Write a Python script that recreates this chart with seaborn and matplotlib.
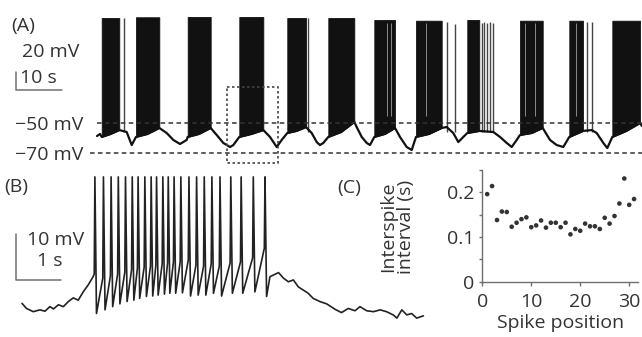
import numpy as np
import matplotlib
matplotlib.use("Agg")
import matplotlib.pyplot as plt
import seaborn as sns

sns.set_theme(style="white")
plt.rcParams['font.family'] = ['Open Sans', 'DejaVu Sans']

# %% (A) slow bursting trace: time (s), voltage (mV)
a_burst_start = [1.46, 8.91, 20.15, 31.37, 41.8, 50.72, 60.72, 69.78, 80.93, 92.39, 103.11, 112.46]
a_burst_end = [5.28, 13.98, 25.15, 36.59, 45.87, 56.37, 65.22, 75.37, 83.54, 97.33, 106.09, 118.48]
a_burst_top = [20.0, 20.5, 20.7, 20.7, 20.0, 20.0, 18.7, 18.2, 18.7, 18.2, 18.2, 18.2]

a_extra_t = [6.3, 46.3, 76.6, 78.3, 84.1, 84.6, 85.2, 85.9, 86.5, 106.9, 108.0]
a_extra_top = [20.0, 20.0, 17.5, 16.0, 17.0, 17.5, 17.0, 17.5, 16.5, 17.5, 17.5]

# lighter gaps seen inside some bursts
a_gap_t = [63.4, 64.4, 72.0, 93.5, 95.6, 104.6]

a_base_t = [0.43, 1.09, 1.46, 3.4, 5.28, 6.89, 7.98, 8.91, 11.4, 13.98, 15.59, 17.02,
            18.48, 19.93, 20.15, 22.6, 25.15, 26.46, 27.89, 29.35, 30.07, 31.37, 34.0,
            36.59, 38.04, 39.5, 40.59, 41.8, 43.8, 45.87, 47.11, 48.2, 48.91, 49.63,
            50.72, 53.5, 56.37, 56.89, 57.98, 59.07, 59.78, 60.72, 63.0, 65.22, 66.3,
            67.76, 68.85, 69.78, 72.6, 75.37, 76.46, 77.89, 78.98, 80.07, 80.93, 83.54,
            86.59, 88.04, 89.5, 90.59, 91.67, 92.39, 94.9, 97.33, 98.91, 100.37, 101.8,
            103.11, 106.09, 107.98, 109.07, 110.5, 111.37, 112.46, 115.5, 118.48, 118.9]
a_base_v = [-58.7, -57.3, -59.3, -57.3, -54.7, -56.0, -64.7, -59.3, -57.3, -53.3, -56.7, -61.3,
            -64.0, -61.3, -59.3, -57.3, -53.3, -58.0, -63.3, -66.0, -64.7, -59.3, -57.3,
            -54.7, -59.3, -66.0, -61.3, -56.7, -55.3, -52.7, -56.7, -62.7, -64.7, -63.3,
            -59.3, -56.0, -49.3, -52.7, -59.3, -63.3, -64.7, -59.3, -57.3, -53.3, -59.3,
            -66.0, -68.0, -59.3, -57.3, -53.3, -52.7, -56.7, -62.7, -59.3, -56.7, -55.3,
            -56.0, -59.3, -63.3, -66.0, -61.3, -58.0, -56.7, -53.3, -61.3, -64.7, -66.0,
            -59.3, -55.3, -54.7, -56.7, -63.3, -66.7, -59.3, -55.3, -50.0, -52.0]

# %% (B) one burst: time (s), voltage (mV, relative)
b_pre_t = [0.0, 0.10, 0.25, 0.40, 0.51, 0.62, 0.70, 0.81, 0.92, 1.03, 1.14, 1.25, 1.36, 1.47, 1.58]
b_pre_v = [1.0, -0.1, -0.8, -0.4, -0.7, 0.3, -0.2, 0.7, 0.3, 1.4, 2.2, 1.7, 3.5, 5.0, 6.8]
b_spike_t = [1.62, 1.81, 1.98, 2.14, 2.30, 2.45, 2.58, 2.73, 2.87, 2.99, 3.13, 3.25,
             3.38, 3.53, 3.71, 3.88, 4.05, 4.22, 4.40, 4.64, 4.87, 5.14, 5.40]
b_threshold = [7.4, 6.5, 7.0, 7.4, 7.8, 8.3, 8.7, 8.9, 9.1, 9.3, 9.6, 9.8,
               10.0, 10.0, 10.4, 9.3, 9.1, 9.6, 9.1, 9.8, 10.0, 10.9, 13.0]
b_trough = [-1.2, -0.4, 0.3, 0.9, 1.4, 1.7, 2.1, 2.5, 2.6, 2.8, 3.0, 3.2,
            3.2, 3.3, 2.6, 2.8, 2.8, 3.2, 2.6, 3.2, 3.2, 3.5, 2.5]
b_peak = 28.5
b_post_t = [5.51, 5.70, 5.81, 5.92, 6.03, 6.14, 6.25, 6.36, 6.47, 6.62, 6.77, 6.96, 7.10,
            7.25, 7.40, 7.51, 7.66, 7.81, 7.96, 8.10, 8.25, 8.33, 8.44, 8.55, 8.66, 8.77, 8.92]
b_post_v = [6.8, 7.7, 6.5, 5.7, 6.1, 4.6, 3.9, 3.2, 2.1, 1.4, 0.9, -0.3, -1.0,
            -0.1, -0.6, 0.3, -0.6, -0.8, -0.4, -0.8, -1.5, -2.2, -0.4, -1.5, -1.2, -2.2, -1.7]

# %% (C) interspike intervals
c_position = list(range(1, 32))
c_isi = [0.196, 0.214, 0.138, 0.157, 0.156, 0.123, 0.132, 0.140, 0.144, 0.122, 0.126,
         0.137, 0.121, 0.132, 0.132, 0.122, 0.132, 0.106, 0.118, 0.114, 0.130, 0.124,
         0.124, 0.118, 0.143, 0.130, 0.147, 0.175, 0.231, 0.172, 0.185]

W, H = 642, 337
txt = "#333333"
bar = "#707070"


def rect(x0, y0, x1, y1):
    # pixel box (top-left origin) -> figure fraction
    return [x0 / W, 1 - y1 / H, (x1 - x0) / W, (y1 - y0) / H]


fig = plt.figure(figsize=(W / 100, H / 100), dpi=100)

# %% panel A
axA = fig.add_axes(rect(0, 0, 642, 170))
t_base = np.array(a_base_t)
v_base = np.array(a_base_v)
for s, e, top in zip(a_burst_start, a_burst_end, a_burst_top):
    m = (t_base >= s) & (t_base <= e)
    axA.fill_between(t_base[m], v_base[m], top, color="#111111", lw=0.6)
axA.vlines(a_gap_t, -45, 17, color="#8a8a8a", lw=0.7)
axA.vlines(a_extra_t, -56, a_extra_top, color="#444444", lw=1.0)
sns.lineplot(x=a_base_t, y=a_base_v, ax=axA, color="#111111", lw=1.6, sort=False, estimator=None)
axA.plot([0.4, 119], [-50, -50], ls=(0, (3, 2.2)), color="#333333", lw=1.1)
axA.plot([-1.1, 119], [-70, -70], ls=(0, (3, 2.2)), color="#333333", lw=1.1)
bx = [28.8, 39.8, 39.8, 28.8, 28.8]
by = [-26.2, -26.2, -76.5, -76.5, -26.2]
axA.plot(bx, by, ls=(0, (1.5, 1.5)), color="#444444", lw=1.2)
axA.set_xlim(-95 / 4.6, 547 / 4.6)
axA.set_ylim(-50 - 47 / 1.5, -50 + 123 / 1.5)
axA.axis("off")

# %% panel B
axB = fig.add_axes(rect(0, 170, 430, 330))
bt = list(b_pre_t)
bv = list(b_pre_v)
for k, ts in enumerate(b_spike_t):
    bt += [ts - 0.015, ts, ts + 0.035]
    bv += [b_threshold[k], b_peak, b_trough[k]]
bt += b_post_t
bv += b_post_v
sns.lineplot(x=bt, y=bv, ax=axB, color="#222222", lw=1.2, sort=False, estimator=None)
axB.set_xlim(-22 / 45, 408 / 45)
axB.set_ylim(-22 / 4.6, 138 / 4.6)
axB.axis("off")

# %% panel C
axC = fig.add_axes(rect(482.3, 170, 638, 281.7))
sns.scatterplot(x=c_position, y=c_isi, ax=axC, s=11, color="#333333", edgecolor="none")
axC.set_xlim(0, 31.8)
axC.set_ylim(0, 0.25)
axC.set_xticks([0, 10, 20, 30])
axC.set_yticks([0, 0.05, 0.1, 0.15, 0.2, 0.25])
axC.set_yticklabels(["0", "", "0.1", "", "0.2", ""])
sns.despine(ax=axC)
for sp in ["left", "bottom"]:
    axC.spines[sp].set_color(bar)
    axC.spines[sp].set_linewidth(1.0)
axC.tick_params(axis="y", left=True, length=2.5, width=1.0, color=bar, labelsize=14,
                labelcolor=txt, pad=3)
axC.tick_params(axis="x", bottom=True, length=3, width=1.0, color=bar, labelsize=14,
                labelcolor=txt, pad=5)
axC.set_xlabel("Spike position", fontsize=14, color=txt, labelpad=2)
axC.set_ylabel("")

# %% labels and scale bars
ov = fig.add_axes([0, 0, 1, 1])
ov.set_xlim(0, W)
ov.set_ylim(H, 0)
ov.axis("off")
ov.patch.set_alpha(0)

ov.plot([15.7, 15.7, 61.7], [72, 90, 90], color=bar, lw=1.1)
ov.plot([16, 16, 61], [234, 280, 280], color=bar, lw=1.1)

ov.text(11, 31, "(A)", fontsize=14, color=txt, va="baseline")
ov.text(22, 57, "20 mV", fontsize=14, color=txt, va="baseline")
ov.text(20, 83, "10 s", fontsize=14, color=txt, va="baseline")
ov.text(83, 130.5, "\u221250 mV", fontsize=14, color=txt, va="baseline", ha="right")
ov.text(83, 160.5, "\u221270 mV", fontsize=14, color=txt, va="baseline", ha="right")
ov.text(4, 191.7, "(B)", fontsize=14, color=txt, va="baseline")
ov.text(27, 245, "10 mV", fontsize=14, color=txt, va="baseline")
ov.text(37, 266.5, "1 s", fontsize=14, color=txt, va="baseline")
ov.text(337, 193, "(C)", fontsize=14, color=txt, va="baseline")
ov.text(397, 227, "Interspike\ninterval (s)", fontsize=14, color=txt, rotation=90,
        ha="center", va="center", linespacing=0.95)

fig.savefig("out.png", dpi=100)
